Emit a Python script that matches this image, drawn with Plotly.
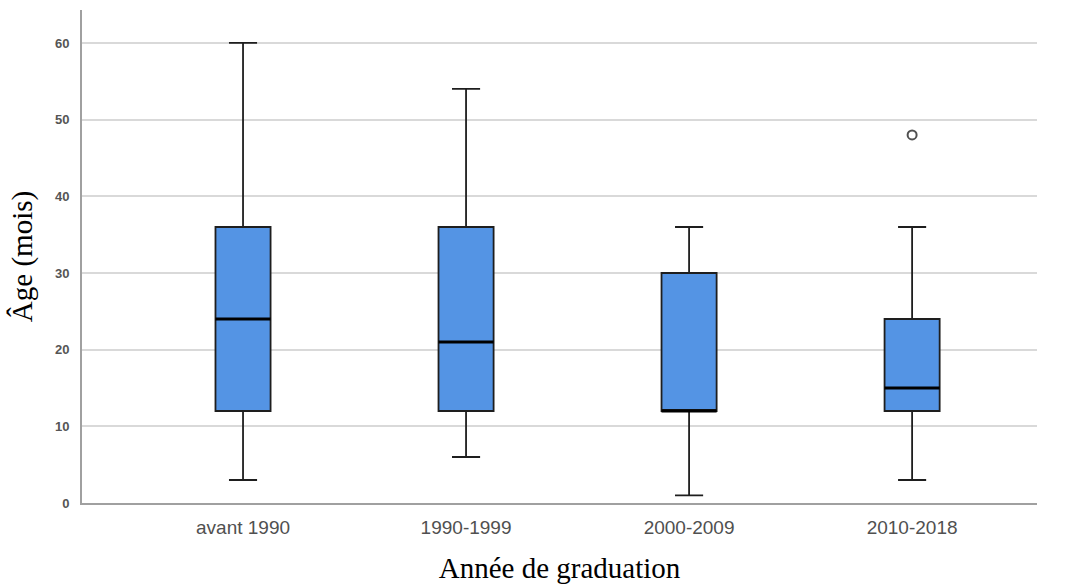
import plotly.graph_objects as go

# Summary statistics per graduation period
categories = ["avant 1990", "1990-1999", "2000-2009", "2010-2018"]
lower_whisker = [3, 6, 1, 3]
q1 = [12, 12, 12, 12]
median = [24, 21, 12, 15]
q3 = [36, 36, 30, 24]
upper_whisker = [60, 54, 36, 36]
outlier_cat = ["2010-2018"]
outlier_val = [48]
y_ticks = [0, 10, 20, 30, 40, 50, 60]

box_width = 0.247
fill = "rgb(84,148,228)"

fig = go.Figure()
pos = list(range(len(categories)))

for i, cat in enumerate(categories):
    fig.add_trace(go.Box(
        x=[pos[i]],
        q1=[q1[i]], median=[median[i]], q3=[q3[i]],
        lowerfence=[lower_whisker[i]], upperfence=[upper_whisker[i]],
        width=box_width, whiskerwidth=0.51,
        fillcolor=fill,
        line=dict(color="#1e1e1e", width=1.8),
        boxpoints=False, showlegend=False, name=cat,
    ))
    # heavier median bar
    fig.add_trace(go.Scatter(
        x=[pos[i] - box_width / 2, pos[i] + box_width / 2],
        y=[median[i], median[i]],
        mode="lines", line=dict(color="black", width=3.2),
        showlegend=False, hoverinfo="skip",
    ))

fig.add_trace(go.Scatter(
    x=[categories.index(c) for c in outlier_cat], y=outlier_val,
    mode="markers",
    marker=dict(symbol="circle-open", size=9, color="#505050", line=dict(width=2)),
    showlegend=False,
))

fig.update_layout(
    width=1067, height=584,
    margin=dict(l=82, r=30, t=10, b=81),
    paper_bgcolor="white", plot_bgcolor="white",
    xaxis=dict(
        range=[-0.722, 3.56], automargin=False,
        tickmode="array", tickvals=pos, ticktext=categories,
        showgrid=False, zeroline=False,
        showline=True, linecolor="#a0a0a0", linewidth=2,
        ticks="", ticklabelstandoff=6,
        tickfont=dict(family="Liberation Sans, Arial", size=19, color="#505050"),
        title=dict(text="Année de graduation", standoff=22,
                   font=dict(family="Liberation Serif, Times New Roman", size=29, color="black")),
    ),
    yaxis=dict(
        range=[0, 64.3], automargin=False,
        tickmode="array", tickvals=y_ticks,
        showgrid=True, gridcolor="#d9d9d9", gridwidth=2,
        zeroline=False,
        showline=True, linecolor="#a0a0a0", linewidth=2,
        ticks="", ticklabelstandoff=8,
        tickfont=dict(family="Liberation Sans, Arial", size=13, color="#555", weight="bold"),
        title=dict(text="Âge (mois)", standoff=14,
                   font=dict(family="Liberation Serif, Times New Roman", size=29, color="black")),
    ),
)

fig.write_html("out.html")
